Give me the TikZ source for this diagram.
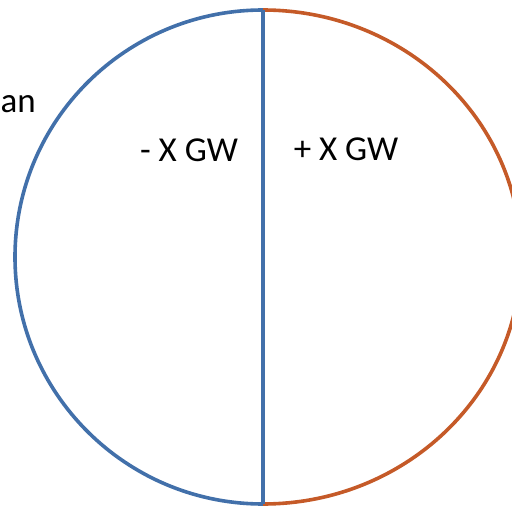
\documentclass[tikz,border=0pt]{standalone}
\usepackage{fontspec}
\setmainfont{Carlito}
\usepackage{tikz}
\usetikzlibrary{positioning}
\usepackage{xcolor}
\definecolor{gwblue}{RGB}{66,112,170}
\definecolor{gworange}{RGB}{197,90,40}

\begin{document}
\begin{tikzpicture}[
        x=1pt, y=-1pt,
        half/.style={line width=3.6pt},
        gw_label/.style={font=\fontsize{35}{42}\selectfont, inner sep=0pt, anchor=center}
    ]
        % Marco de la imagen
        \useasboundingbox (0,0) rectangle (512,506);
        \begin{scope}
        \clip (0,0) rectangle (512,506);

        % Puntos extremos del diámetro
        \coordinate (top) at (263,10);
        \coordinate (bottom) at (263,504);

        % Semicírculos
        \draw[half, gwblue] (top) arc[start angle=270, end angle=90, x radius=248, y radius=247];
        \draw[half, gworange] (top) arc[start angle=270, end angle=450, x radius=258, y radius=247];

        % Diámetro
        \draw[half, gwblue] (top) -- (bottom);
        \end{scope}

        % Etiquetas
        \node[gw_label] (minus) at (189,150) {- X GW};
        \node[gw_label] (plus) at (346,149) {+ X GW};
        \node[gw_label, anchor=base west] (cut) at (0.5,112) {an};
    \end{tikzpicture}
\end{document}
